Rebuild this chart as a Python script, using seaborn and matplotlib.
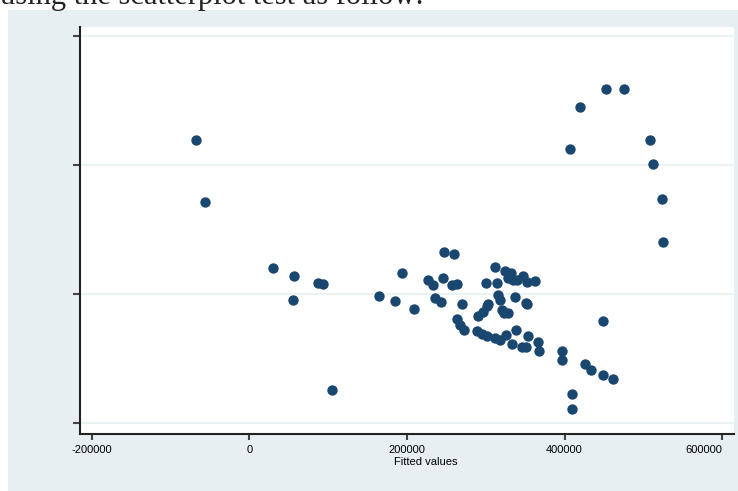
import matplotlib
matplotlib.use("Agg")
import matplotlib.pyplot as plt
import matplotlib.patches as patches
import pandas as pd
import seaborn as sns


#----------------------------------------------------------------------------------------------------
# values (fitted values vs residuals)
fitted = [
    -67900, -56500, 29800, 56500, 55200, 87000, 93300, 104700, 164400, 184800,
    193700, 208900, 226700, 233100, 235600, 243200, 245700, 247000, 259700, 257100,
    263500, 269800, 263500, 267300, 272400, 288900, 295300, 301600, 311800, 318100,
    325700, 333300, 346000, 351100, 366300, 367600, 338400, 353700, 290200, 296500,
    301600, 302800, 311800, 300300, 314300, 324400, 332100, 328200, 339700, 347300,
    352400, 362500, 334600, 315600, 318100, 337100, 351100, 352400, 320600, 323200,
    328200, 396800, 396800, 409500, 409500, 448900, 426000, 433600, 448900, 461600,
    452700, 475500, 419700, 407000, 508600, 512400, 523800, 525000,
]

residuals = [
    238000, 142000, 39000, 27000, -10000, 16000, 15000, -150000, -4000, -12000,
    32000, -24000, 21000, 13000, -7000, -13000, 24000, 64000, 61000, 13000,
    15000, -16000, -40000, -49000, -57000, -58000, -63000, -66000, -69000, -72000,
    -64000, -78000, -83000, -83000, -75000, -89000, -57000, -66000, -35000, -29000,
    -19000, -16000, 41000, 16000, 16000, 35000, 32000, 24000, 21000, 27000,
    18000, 19000, 21000, -2000, -10000, -5000, -15000, -16000, -26000, -30000,
    -30000, -89000, -103000, -156000, -179000, -43000, -109000, -119000, -126000, -133000,
    317000, 317000, 289000, 224000, 238000, 201000, 147000, 80000,
]

x_ticks = [-200000, 0, 200000, 400000, 600000]
y_ticks = [-200000, 0, 200000, 400000]

df = pd.DataFrame({"fitted": fitted, "resid": residuals})


#----------------------------------------------------------------------------------------------------
W, H = 738, 491
fig = plt.figure(figsize=(W / 100, H / 100), dpi=100)
fig.patch.set_facecolor("white")

# light Stata-like graph region, kept behind the axes
fig.add_artist(patches.Rectangle(
    (8 / W, 0), 1 - 8 / W, 1 - 10 / H,
    transform=fig.transFigure, facecolor="#e8eff2", edgecolor="none", zorder=-5))

# document text cut off at the top
fig.text(0.0, 1 - 4 / H, "using the scatterplot test as follow:",
         family="Liberation Serif", fontsize=22, va="baseline", ha="left", color="#222222")

ax = fig.add_axes([80 / W, (H - 434) / H, (734 - 80) / W, (434 - 27) / H])
ax.set_facecolor("white")

sns.scatterplot(
    data      = df,
    x         = "fitted",
    y         = "resid",
    color     = "#1a476f",
    s         = 56,
    linewidth = 0,
    ax        = ax,
    zorder    = 3
    )

ax.set_xlim(-215200, 615200)
ax.set_ylim(-217800, 413200)

ax.set_xticks(x_ticks)
ax.set_xticklabels([str(t) for t in x_ticks], family="Liberation Sans", fontsize=8)
ax.set_yticks(y_ticks)
ax.set_yticklabels([])

# last label sits left of its tick so it stays inside the picture
ax.get_xticklabels()[-1].set_horizontalalignment("right")

ax.grid(axis="y", color="#eaf2f3", linewidth=1.5, zorder=1)
ax.grid(axis="x", visible=False)

for side in ["top", "right"]:
    ax.spines[side].set_visible(False)
for side in ["left", "bottom"]:
    ax.spines[side].set_color("#222222")
    ax.spines[side].set_linewidth(1.5)

ax.tick_params(axis="x", length=4.5, width=1.5, color="#444444", pad=3.5)
ax.tick_params(axis="y", length=5, width=1.5, color="#444444")

ax.set_xlabel("Fitted values", family="Liberation Sans", fontsize=8)
ax.xaxis.set_label_coords((426 - 80) / (734 - 80), -23 / (434 - 27))
ax.set_ylabel("")

plt.savefig("out.png", dpi=100)
